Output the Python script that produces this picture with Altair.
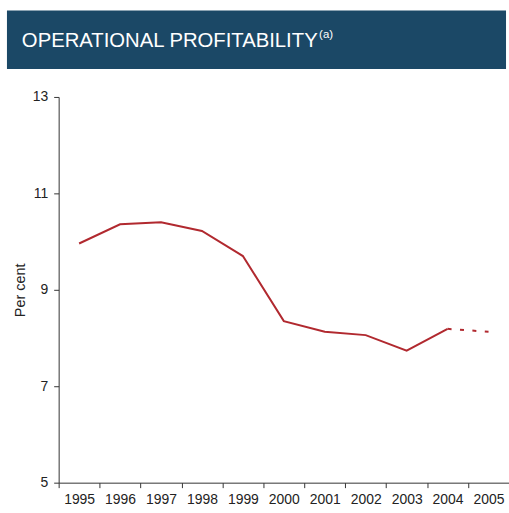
import altair as alt
import pandas as pd

# Operational profitability, per cent
years = ["1995", "1996", "1997", "1998", "1999", "2000",
         "2001", "2002", "2003", "2004", "2005"]
actual = [9.96, 10.36, 10.40, 10.22, 9.70, 8.35, 8.13, 8.06, 7.74, 8.19]
forecast_years = ["2004", "2005"]
forecast = [8.19, 8.13]

y_ticks = [5, 7, 9, 11, 13]
title_text = "OPERATIONAL PROFITABILITY"
title_note = "(a)"

FONT = "Liberation Sans"
RED = "#b1292f"
BANNER = "#1b4866"
INK = "#222222"

df_actual = pd.DataFrame({"year": years[:len(actual)], "value": actual})
df_fc = pd.DataFrame({"year": forecast_years, "value": forecast})

x_enc = alt.X(
    "year:O",
    scale=alt.Scale(domain=years, paddingInner=0, paddingOuter=0),
    axis=alt.Axis(
        title=None, labelAngle=0, tickBand="extent", labelFont=FONT,
        labelFontSize=14, labelColor=INK, labelPadding=5, tickSize=5,
        domainColor="#333", tickColor="#333", grid=False,
    ),
)
y_enc = alt.Y(
    "value:Q",
    scale=alt.Scale(domain=[5, 13], nice=False, zero=False),
    axis=alt.Axis(
        title="Per cent", values=y_ticks, titleFont=FONT, titleFontSize=14.5,
        titleFontWeight="normal", titleColor=INK, titlePadding=5,
        labelFont=FONT, labelFontSize=14, labelColor=INK, labelPadding=6,
        tickSize=5, domainColor="#333", tickColor="#333", grid=False,
    ),
)

line = alt.Chart(df_actual).mark_line(color=RED, strokeWidth=2).encode(
    x=x_enc, y=y_enc
)
dashed = alt.Chart(df_fc).mark_line(
    color=RED, strokeWidth=2, strokeDash=[4, 8.5]
).encode(x=x_enc, y=y_enc)

# Title banner across the top
banner = alt.Chart(pd.DataFrame({"t": [title_text]})).mark_rect(
    color=BANNER, clip=False
).encode(
    x=alt.value(-52), x2=alt.value(450), y=alt.value(-87), y2=alt.value(-28)
)
banner_text = alt.Chart(pd.DataFrame({"t": [title_text]})).mark_text(
    color="white", font=FONT, fontSize=20.4, align="left", baseline="alphabetic"
).encode(x=alt.value(-37), y=alt.value(-50), text="t:N")
banner_note = alt.Chart(pd.DataFrame({"t": [title_note]})).mark_text(
    color="white", font=FONT, fontSize=11.5, align="left", baseline="alphabetic"
).encode(x=alt.value(262), y=alt.value(-59), text="t:N")

chart = alt.layer(banner, banner_text, banner_note, line, dashed).properties(
    width=453, height=388,
    autosize=alt.AutoSizeParams(type="none"),
    padding={"left": 59, "top": 96, "right": 0, "bottom": 29},
    background="white",
).configure_view(stroke=None)

chart.save("out.html", embed_options={"renderer": "svg", "actions": False})
